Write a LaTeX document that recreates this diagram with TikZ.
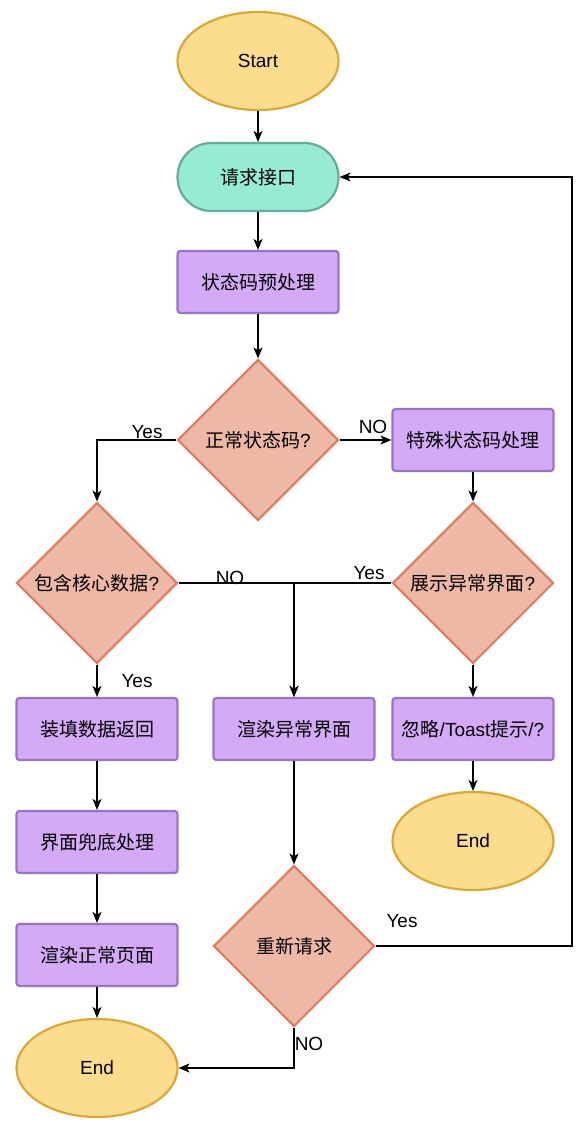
\documentclass[tikz,border=0pt]{standalone}
\usepackage{fontspec}
\setmainfont{Liberation Sans}
\newfontfamily\cjk{Noto Sans CJK SC}
\usetikzlibrary{shapes.geometric,arrows.meta}
\definecolor{termfill}{HTML}{FCDC8D}
\definecolor{termline}{HTML}{D9A933}
\definecolor{reqfill}{HTML}{96EBD4}
\definecolor{reqline}{HTML}{67AB9A}
\definecolor{procfill}{HTML}{D4AAF7}
\definecolor{procline}{HTML}{9A74C0}
\definecolor{decfill}{HTML}{EEB8A6}
\definecolor{decline}{HTML}{DC7F63}
\begin{document}
\begin{tikzpicture}[x=1pt,y=-1pt,
  font=\fontsize{19}{22}\selectfont,
  term/.style={ellipse, draw=termline, fill=termfill, line width=2.2pt, minimum width=161pt, minimum height=98pt, inner sep=0pt},
  reqbox/.style={rectangle, rounded corners=34pt, draw=reqline, fill=reqfill, line width=2.2pt, minimum width=161pt, minimum height=68pt, inner sep=0pt},
  proc/.style={rectangle, rounded corners=3pt, draw=procline, fill=procfill, line width=2.2pt, minimum width=161pt, minimum height=62pt, inner sep=0pt},
  dec/.style={diamond, draw=decline, fill=decfill, line width=2.2pt, minimum width=161pt, minimum height=161pt, inner sep=0pt},
  arr/.style={-{Stealth[length=11pt,width=9pt,inset=3pt]}, line width=1.3pt},
  lbl/.style={inner sep=0pt}]
\useasboundingbox (0,0) rectangle (581,1125);
% nodes
\node[term] (start) at (258,61) {Start};
\node[reqbox] (req) at (258,177) {\cjk 请求接口};
\node[proc] (pre) at (258,282) {\cjk 状态码预处理};
\node[dec] (d1) at (258,440) {{\cjk 正常状态码}?};
\node[proc] (sp) at (473,440) {\cjk 特殊状态码处理};
\node[dec] (d2) at (97,583) {{\cjk 包含核心数据}?};
\node[dec] (d3) at (473,583) {{\cjk 展示异常界面}?};
\node[proc] (fill) at (97,729) {\cjk 装填数据返回};
\node[proc] (err) at (294,729) {\cjk 渲染异常界面};
\node[proc] (ign) at (473,729) {{\cjk 忽略}/Toast{\cjk 提示}/?};
\node[term] (end2) at (473,841) {End};
\node[proc] (fb) at (97,842) {\cjk 界面兜底处理};
\node[proc] (rn) at (97,955) {\cjk 渲染正常页面};
\node[term] (end1) at (97,1068) {End};
\node[dec] (d4) at (294,946) {\cjk 重新请求};
\coordinate (loop) at (572,177);
% connectors
\draw[arr] (start) -- (req);
\draw[arr] (req) -- (pre);
\draw[arr] (pre) -- (d1);
\draw[arr] (d1.west) -| (d2.north);
\draw[arr] (d1.east) -- (sp.west);
\draw[arr] (sp) -- (d3);
\draw[arr] (d2.east) -| (err.north);
\draw[arr] (d3.west) -| (err.north);
\draw[arr] (d2) -- (fill);
\draw[arr] (fill) -- (fb);
\draw[arr] (fb) -- (rn);
\draw[arr] (rn) -- (end1);
\draw[arr] (d3) -- (ign);
\draw[arr] (ign) -- (end2);
\draw[arr] (err) -- (d4);
\draw[arr] (d4.east) -| (loop) -- (req.east);
\draw[arr] (d4.south) |- (end1.east);
% labels
\node[lbl] (l1) at (147,432) {Yes};
\node[lbl] (l2) at (373,427) {NO};
\node[lbl] (l3) at (230,578) {NO};
\node[lbl] (l4) at (369,573) {Yes};
\node[lbl] (l5) at (137,681) {Yes};
\node[lbl] (l6) at (402,921) {Yes};
\node[lbl] (l7) at (309,1044) {NO};
\end{tikzpicture}
\end{document}
